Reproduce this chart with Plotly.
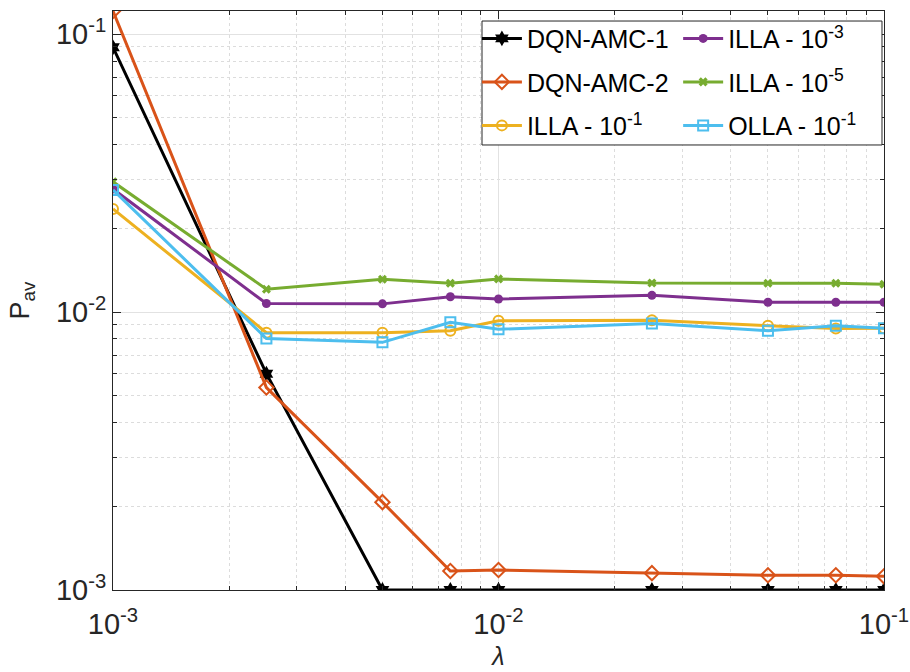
import plotly.graph_objects as go

lam = [0.001, 0.0025, 0.005, 0.0075, 0.01, 0.025, 0.05, 0.075, 0.1]

dqn_amc_1 = [0.0896, 0.0060, 0.0010, 0.0010, 0.0010, 0.0010, 0.0010, 0.0010, 0.0010]
dqn_amc_2 = [0.121, 0.00535, 0.00207, 0.00117, 0.00118, 0.00115, 0.00113, 0.00113, 0.00112]
illa_1 = [0.0235, 0.00843, 0.00843, 0.00857, 0.00931, 0.00934, 0.00893, 0.00873, 0.00875]
illa_3 = [0.0277, 0.01073, 0.0107, 0.01135, 0.01114, 0.01148, 0.01084, 0.01084, 0.01084]
illa_5 = [0.0294, 0.01208, 0.01313, 0.01269, 0.01316, 0.01273, 0.01269, 0.01269, 0.01259]
olla_1 = [0.0275, 0.00803, 0.00778, 0.00919, 0.00867, 0.00910, 0.00857, 0.00893, 0.00875]

x_tickvals = [1e-3, 1e-2, 1e-1]
x_ticktext = ["10<sup>-3</sup>", "10<sup>-2</sup>", "10<sup>-1</sup>"]
y_tickvals = [1e-3, 1e-2, 1e-1]
y_ticktext = ["10<sup>-3</sup>", "10<sup>-2</sup>", "10<sup>-1</sup>"]
minor_vals = [m * 10.0 ** e for e in (-3, -2, -1) for m in range(2, 10)]

series = [
    ("DQN-AMC-1", dqn_amc_1, "#000000", dict(symbol="hexagram", size=12), "legend"),
    ("DQN-AMC-2", dqn_amc_2, "#D95319", dict(symbol="diamond-open", size=11, line=dict(width=2)), "legend"),
    ("ILLA - 10<sup>-1</sup>", illa_1, "#EDB120", dict(symbol="circle-open", size=10, line=dict(width=2)), "legend"),
    ("ILLA - 10<sup>-3</sup>", illa_3, "#7E2F8E", dict(symbol="circle", size=9), "legend2"),
    ("ILLA - 10<sup>-5</sup>", illa_5, "#77AC30", dict(symbol="x", size=8), "legend2"),
    ("OLLA - 10<sup>-1</sup>", olla_1, "#4DBEEE", dict(symbol="square-open", size=10, line=dict(width=2)), "legend2"),
]

fig = go.Figure()
for i, (name, ys, col, mk, lg) in enumerate(series):
    mk = dict(mk)
    mk["color"] = col
    if "line" in mk:
        mk["line"] = dict(width=2, color=col)
    fig.add_trace(go.Scatter(
        x=lam, y=ys, name=name, mode="lines+markers",
        line=dict(color=col, width=3), marker=mk, legend=lg,
        legendgroup="g%d" % i,
    ))

font_family = "Liberation Sans, Arial, sans-serif"
axis_common = dict(
    type="log", automargin=False,
    showline=True, linecolor="#262626", linewidth=1, mirror="allticks",
    ticks="inside", ticklen=8, tickcolor="#262626",
    showgrid=True, gridcolor="#e2e2e2", gridwidth=1,
    tickfont=dict(size=29, color="#262626", family=font_family),
    zeroline=False,
)

fig.update_xaxes(
    **axis_common,
    range=[-3, -1],
    tickvals=x_tickvals, ticktext=x_ticktext,
    ticklabelstandoff=8,
    minor=dict(tickvals=minor_vals, ticks="inside", ticklen=4, tickcolor="#262626",
               showgrid=True, gridcolor="#dcdcdc", griddash="dot", gridwidth=1),
    title=dict(text="<i>λ</i>", font=dict(size=25, color="#262626", family=font_family), standoff=8),
)
fig.update_yaxes(
    **axis_common,
    range=[-3, -0.917],
    tickvals=y_tickvals, ticktext=y_ticktext,
    minor=dict(tickvals=minor_vals, ticks="inside", ticklen=4, tickcolor="#262626",
               showgrid=True, gridcolor="#dcdcdc", griddash="dot", gridwidth=1),
    title=dict(text="P<sub>av</sub>", font=dict(size=27, color="#262626", family=font_family), standoff=18),
)

leg_common = dict(
    orientation="v", bgcolor="rgba(0,0,0,0)", borderwidth=0,
    font=dict(size=25, color="#000000", family=font_family),
    xanchor="left", yanchor="top", tracegroupgap=8, itemwidth=40,
)

fig.update_layout(
    width=910, height=672,
    margin=dict(l=113, r=26, t=11, b=82, autoexpand=False),
    paper_bgcolor="white", plot_bgcolor="white",
    font=dict(family=font_family, color="#262626"),
    legend=dict(**leg_common, x=0.472, y=0.992),
    legend2=dict(**leg_common, x=0.733, y=0.992),
    shapes=[dict(type="rect", xref="paper", yref="paper",
                 x0=0.4786, x1=0.9974, y0=0.7686, y1=0.9827,
                 line=dict(color="#262626", width=1), fillcolor="white", layer="above")],
)

fig.write_html("out.html", config={"displayModeBar": False},
               post_script="document.body.style.margin='0px';")
